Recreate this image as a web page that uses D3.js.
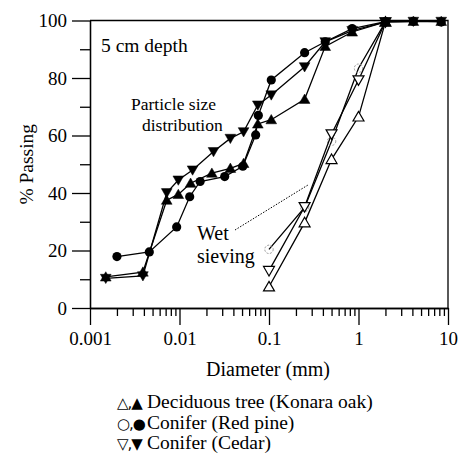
<!DOCTYPE html>
<html>
<head>
<meta charset="utf-8">
<script src="https://cdn.jsdelivr.net/npm/d3@7"></script>
<style>
  body { margin: 0; background: #fff; }
</style>
</head>
<body>
<div id="chart"></div>
<script>
var width = 459;
var height = 460;
var serif = '"Liberation Serif", "Times New Roman", Times, serif';

// particle size distribution (filled markers)
var oakDia = [0.0015, 0.0039, 0.0072, 0.0097, 0.0133, 0.023, 0.037, 0.052, 0.075, 0.106, 0.25, 0.425, 0.85, 2, 4.1, 8.4];
var oakPass = [10.8, 12.5, 37.5, 39.5, 43.4, 46.9, 48.6, 50.3, 64, 65.5, 72.6, 91, 96, 99.5, 99.7, 99.7];
var pineDia = [0.002, 0.0046, 0.0093, 0.013, 0.017, 0.032, 0.051, 0.071, 0.076, 0.106, 0.25, 0.425, 0.85, 2, 4.1, 8.4];
var pinePass = [17.9, 19.5, 28.2, 38.7, 44, 45.7, 49.3, 60.2, 67, 79.3, 88.8, 92.6, 97.2, 99.6, 99.7, 99.5];
var cedarDia = [0.0015, 0.0039, 0.0072, 0.0097, 0.014, 0.024, 0.037, 0.052, 0.075, 0.106, 0.25, 0.425, 0.85, 2, 4.1, 8.4];
var cedarPass = [10.3, 11.2, 40.1, 44.5, 48, 54.4, 59, 61.3, 70.6, 74.1, 83.9, 92.6, 96.5, 99.5, 99.7, 99.7];

// wet sieving (open markers)
var wetDia = [0.1, 0.25, 0.5, 1, 2];
var oakWet = [7.4, 29.7, 51.7, 66.5, 99.5];
var pineWet = [20.4, 35, 58, 83.4, 99.5];
var cedarWet = [13, 35.2, 60.5, 79.3, 99.5];

var xMajor = [0.001, 0.01, 0.1, 1, 10];
var xMajorLabels = ['0.001', '0.01', '0.1', '1', '10'];
var yMajor = [0, 20, 40, 60, 80, 100];
var yMinor = [10, 30, 50, 70, 90];

var legendSymbols = ['\u25B3,\u25B2', '\u25CB,\u25CF', '\u25BD,\u25BC'];
var legendLabels = ['Deciduous tree (Konara oak)', 'Conifer (Red pine)', 'Conifer (Cedar)'];

// margins
var margin = { top: 20.5, right: 11, bottom: 152, left: 90 };
var chartWidth = width - margin.left - margin.right;
var chartHeight = height - margin.top - margin.bottom;

var svgRoot = d3.select('#chart').append('svg')
    .attr('width', width)
    .attr('height', height)
    .attr('font-family', serif);

var svg = svgRoot.append('g')
    .attr('transform', `translate(${margin.left}, ${margin.top})`);

var xScale = d3.scaleLog().domain([0.001, 10]).range([0, chartWidth]);
var yScale = d3.scaleLinear().domain([0, 100]).range([chartHeight, 0]);

// minor x ticks 2..9 in each decade
var xMinor = [];
xMajor.slice(0, -1).forEach(function (m) {
    for (var k = 2; k <= 9; k++) xMinor.push(m * k);
});

// axes
svg.append('g')
    .attr('transform', `translate(0, ${chartHeight})`)
    .call(d3.axisBottom(xScale).tickValues(xMinor).tickSize(8).tickSizeOuter(0).tickFormat(''));
svg.append('g')
    .attr('transform', `translate(0, ${chartHeight})`)
    .call(d3.axisBottom(xScale).tickValues(xMajor).tickSize(17).tickSizeOuter(0).tickPadding(7)
        .tickFormat((d, i) => xMajorLabels[i]));

svg.append('g')
    .call(d3.axisLeft(yScale).tickValues(yMinor).tickSize(10).tickSizeOuter(0).tickFormat(''));
svg.append('g')
    .call(d3.axisLeft(yScale).tickValues(yMajor).tickSize(18).tickSizeOuter(0).tickPadding(5));

svg.selectAll('g').attr('font-family', serif);
svg.selectAll('.domain, .tick line').attr('stroke', '#000').attr('stroke-width', 1.3);
svg.selectAll('.tick text')
    .attr('font-family', serif)
    .attr('font-size', 19)
    .attr('fill', '#000');

// frame top and right
svg.append('path')
    .attr('d', `M0,0H${chartWidth}V${chartHeight}`)
    .attr('fill', 'none')
    .attr('stroke', '#000')
    .attr('stroke-width', 1.3);

// axis titles
svgRoot.append('text')
    .attr('x', margin.left + xScale(0.1) - 1)
    .attr('y', 376)
    .attr('text-anchor', 'middle')
    .attr('font-size', 20)
    .text('Diameter (mm)');

svgRoot.append('text')
    .attr('transform', `translate(33, ${margin.top + chartHeight / 2}) rotate(-90)`)
    .attr('text-anchor', 'middle')
    .attr('font-size', 19.5)
    .text('% Passing');

// lines
var line = d3.line()
    .x(d => xScale(d[0]))
    .y(d => yScale(d[1]));

function pairs(xs, ys) {
    return xs.map((d, i) => [d, ys[i]]);
}

var tri = d3.symbol().type(d3.symbolTriangle);

function drawSeries(xs, ys, kind, filled) {
    var pts = pairs(xs, ys);
    svg.append('path')
        .datum(pts)
        .attr('d', line)
        .attr('fill', 'none')
        .attr('stroke', '#000')
        .attr('stroke-width', 1.3);

    var g = svg.append('g');
    if (kind === 'circle') {
        g.selectAll('circle')
            .data(pts)
            .enter()
            .append('circle')
            .attr('cx', d => xScale(d[0]))
            .attr('cy', d => yScale(d[1]))
            .attr('r', filled ? 4.6 : 4.2)
            .attr('fill', filled ? '#000' : 'none')
            .attr('stroke', filled ? '#000' : '#999')
            .attr('stroke-width', filled ? 0 : 1)
            .attr('stroke-dasharray', filled ? null : '2,1.5');
    } else {
        var rot = kind === 'down' ? 180 : 0;
        g.selectAll('path')
            .data(pts)
            .enter()
            .append('path')
            .attr('d', tri.size(filled ? 50 : 52)())
            .attr('transform', d => `translate(${xScale(d[0])}, ${yScale(d[1]) + (rot ? -1 : 1)}) rotate(${rot})`)
            .attr('fill', filled ? '#000' : '#fff')
            .attr('stroke', '#000')
            .attr('stroke-width', filled ? 0.5 : 1.2);
    }
}

// wet sieving
drawSeries(wetDia, pineWet, 'circle', false);
drawSeries(wetDia, cedarWet, 'down', false);
drawSeries(wetDia, oakWet, 'up', false);

// particle size distribution
drawSeries(pineDia, pinePass, 'circle', true);
drawSeries(oakDia, oakPass, 'up', true);
drawSeries(cedarDia, cedarPass, 'down', true);

// annotations
svgRoot.append('text')
    .attr('x', 101)
    .attr('y', 52)
    .attr('font-size', 19.5)
    .text('5 cm depth');

svgRoot.append('text')
    .attr('x', 131)
    .attr('y', 110)
    .attr('font-size', 17.5)
    .text('Particle size');
svgRoot.append('text')
    .attr('x', 142)
    .attr('y', 131)
    .attr('font-size', 17.5)
    .text('distribution');

svgRoot.append('text')
    .attr('x', 197)
    .attr('y', 240)
    .attr('font-size', 20)
    .text('Wet');
svgRoot.append('text')
    .attr('x', 197)
    .attr('y', 263)
    .attr('font-size', 20)
    .text('sieving');

svgRoot.append('line')
    .attr('x1', 235).attr('y1', 230)
    .attr('x2', 308).attr('y2', 185)
    .attr('stroke', '#000')
    .attr('stroke-width', 1)
    .attr('stroke-dasharray', '1.5,1.5');

// legend
var legend = svgRoot.selectAll('.legend')
    .data(legendLabels)
    .enter()
    .append('text')
    .attr('class', 'legend')
    .attr('y', (d, i) => 408 + i * 20.5)
    .attr('font-size', 19.5);
legend.append('tspan')
    .attr('x', 117)
    .attr('font-family', '"DejaVu Sans", sans-serif')
    .attr('font-size', 15)
    .attr('letter-spacing', -1)
    .text((d, i) => legendSymbols[i]);
legend.append('tspan')
    .attr('x', 147)
    .text(d => d);
</script>
</body>
</html>
